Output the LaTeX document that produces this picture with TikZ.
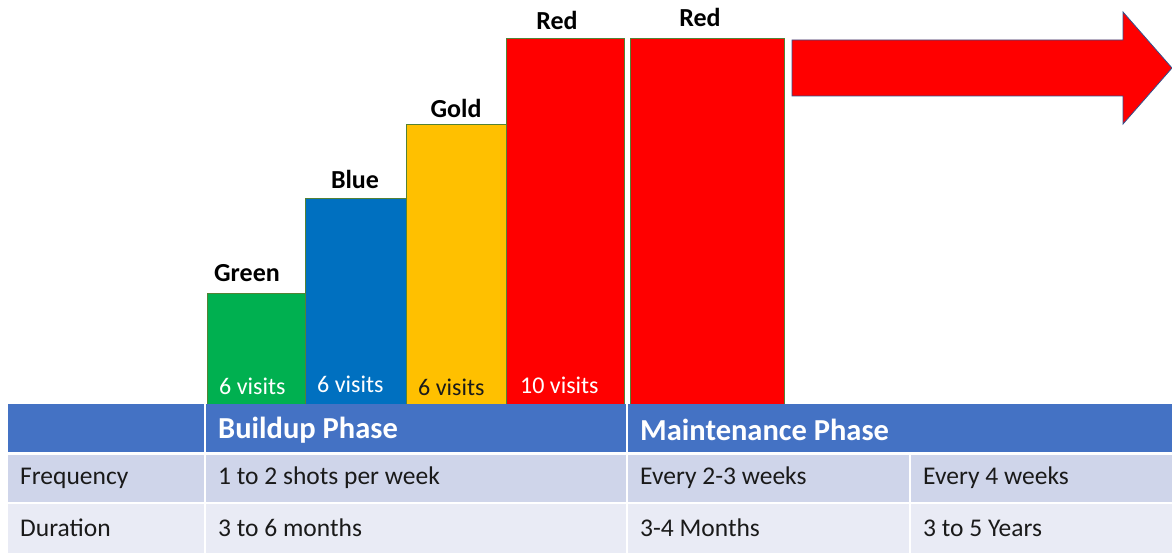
\documentclass[tikz,border=0pt]{standalone}
\usepackage{fontspec}
\setmainfont{Carlito}
\definecolor{cgreen}{HTML}{00B050}
\definecolor{cblue}{HTML}{0070C0}
\definecolor{cgold}{HTML}{FFC000}
\definecolor{cred}{HTML}{FF0000}
\definecolor{cedge}{HTML}{548235}
\definecolor{carrowedge}{HTML}{2F528F}
\definecolor{chead}{HTML}{4472C4}
\definecolor{crowa}{HTML}{CFD5EA}
\definecolor{crowb}{HTML}{E9EBF5}
\definecolor{ctext}{HTML}{1A1A1A}
\tikzset{
  bar/.style={draw=cedge, line width=0.8pt, anchor=south west, inner sep=0pt, outer sep=0pt},
  toplab/.style={font=\fontsize{26}{30}\selectfont\bfseries, text=black, inner sep=0pt},
  vislab/.style={font=\fontsize{24}{28}\selectfont, inner sep=0pt, anchor=west},
  headtext/.style={font=\fontsize{30.5}{34}\selectfont\bfseries, text=white, anchor=west, inner sep=0pt},
  rowtext/.style={font=\fontsize{25.5}{30}\selectfont, text=ctext, anchor=west, inner sep=0pt}
}
\begin{document}
\begin{tikzpicture}[x=1pt,y=-1pt]
\useasboundingbox[fill=white] (0,0) rectangle (1172,553);
% bars
\node[bar, fill=cgreen, minimum width=98pt, minimum height=112pt] (g) at (207,405) {};
\node[bar, fill=cblue, minimum width=101pt, minimum height=206pt] (b) at (305,404) {};
\node[bar, fill=cgold, minimum width=100pt, minimum height=282pt] (y) at (406,406) {};
\node[bar, fill=cred, minimum width=118pt, minimum height=367pt] (r1) at (506,405) {};
\node[bar, fill=cred, minimum width=154pt, minimum height=367pt] (r2) at (630,405) {};
% top labels
\node[toplab] (gl) at (247,273) {Green};
\node[toplab] (bl) at (355,179) {Blue};
\node[toplab] (yl) at (456,108) {Gold};
\node[toplab] (r1l) at (557,20) {Red};
\node[toplab] (r2l) at (700,17) {Red};
% visit labels
\node[vislab, text=white] (gv) at (219,386) {6 visits};
\node[vislab, text=white] (bv) at (317,384) {6 visits};
\node[vislab, text=ctext] (yv) at (418,387) {6 visits};
\node[vislab, text=white] (rv) at (520,385) {10 visits};
% arrow
\draw[fill=cred, draw=carrowedge, line width=0.8pt, line join=miter]
  (792,40) -- (1123,40) -- (1123,12) -- (1172,68) -- (1123,124) -- (1123,96) -- (792,96) -- cycle;
% table header
\fill[chead] (8,404) rectangle (204,452);
\fill[chead] (206,404) rectangle (626,452);
\fill[chead] (628,404) rectangle (1172,452);
% row 1
\fill[crowa] (8,455) rectangle (204,502);
\fill[crowa] (206,455) rectangle (626,502);
\fill[crowa] (628,455) rectangle (909,502);
\fill[crowa] (911,455) rectangle (1172,502);
% row 2
\fill[crowb] (8,504) rectangle (204,553);
\fill[crowb] (206,504) rectangle (626,553);
\fill[crowb] (628,504) rectangle (909,553);
\fill[crowb] (911,504) rectangle (1172,553);
% texts
\node[headtext] (h1) at (218,430) {Buildup Phase};
\node[headtext] (h2) at (640,430) {Maintenance Phase};
\node[rowtext] (f0) at (20,478) {Frequency};
\node[rowtext] (f1) at (218,478) {1 to 2 shots per week};
\node[rowtext] (f2) at (640,478) {Every 2-3 weeks};
\node[rowtext] (f3) at (923,478) {Every 4 weeks};
\node[rowtext] (d0) at (20,528) {Duration};
\node[rowtext] (d1) at (218,528) {3 to 6 months};
\node[rowtext] (d2) at (640,528) {3-4 Months};
\node[rowtext] (d3) at (923,528) {3 to 5 Years};
\end{tikzpicture}
\end{document}
